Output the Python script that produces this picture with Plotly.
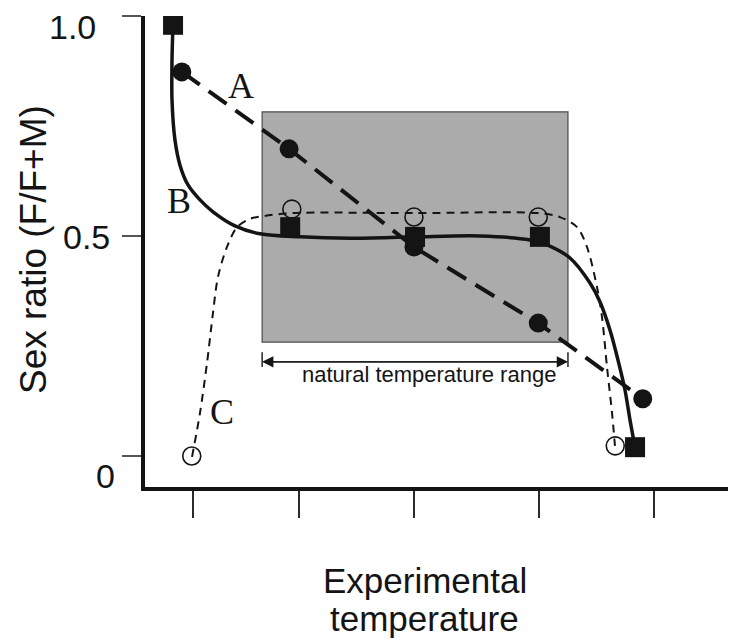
import plotly.graph_objects as go

# ---------------- data (schematic) ----------------
# x: experimental temperature (arbitrary units), y: sex ratio F/(F+M)
x_ticks = [0.87, 2.80, 4.89, 7.16, 9.25]

# Series A: filled circles, long-dashed straight line
a_x = [0.67, 2.62, 4.89, 7.15, 9.05]
a_y = [0.873, 0.698, 0.475, 0.302, 0.130]

# Series B: filled squares, solid smooth curve
b_x = [0.51, 2.64, 4.91, 7.18, 8.91]
b_y = [0.980, 0.520, 0.498, 0.498, 0.020]
b_curve_x = [0.509, 0.491, 0.491, 0.545, 0.636, 0.782, 1.0, 1.236, 1.636, 2.091, 2.818,
             3.727, 4.909, 6.091, 7.0, 7.309, 7.727, 8.091, 8.273, 8.455, 8.600, 8.727, 8.818, 8.909]
b_curve_y = [0.980, 0.900, 0.809, 0.718, 0.661, 0.616, 0.582, 0.555, 0.523, 0.505, 0.498,
             0.495, 0.498, 0.500, 0.491, 0.480, 0.450, 0.393, 0.350, 0.286, 0.218, 0.150, 0.082, 0.020]

# Series C: open circles, short-dashed smooth curve
c_x = [0.85, 2.67, 4.89, 7.15, 8.55]
c_y = [0.0, 0.561, 0.543, 0.543, 0.023]
c_curve_x = [0.855, 1.0, 1.127, 1.236, 1.327, 1.491, 1.673, 1.909, 2.145, 2.673,
             4.891, 7.145, 7.545, 7.855, 8.036, 8.218, 8.309, 8.4, 8.491, 8.545]
c_curve_y = [-0.002, 0.098, 0.211, 0.325, 0.407, 0.475, 0.520, 0.539, 0.545, 0.552,
             0.552, 0.552, 0.543, 0.520, 0.475, 0.384, 0.316, 0.202, 0.098, 0.023]

# natural temperature range box
range_x = [2.13, 7.69]
range_y = [0.259, 0.782]
arrow_y = 0.214

y_tick_vals = [0.0, 0.5, 1.0]
y_tick_text = ["0", "0.5", "1.0"]

X_RANGE = [0, 10.6]
Y_RANGE = [-0.0705, 1.0]

# ---------------- figure ----------------
INK = "#141414"
SANS = "Liberation Sans, Arial, sans-serif"
SERIF = "Liberation Serif, Times New Roman, serif"


def to_paper(x, y):
    return ((x - X_RANGE[0]) / (X_RANGE[1] - X_RANGE[0]),
            (y - Y_RANGE[0]) / (Y_RANGE[1] - Y_RANGE[0]))


fig = go.Figure()

fig.add_shape(type="rect", x0=range_x[0], x1=range_x[1], y0=range_y[0], y1=range_y[1],
              xref="x", yref="y", fillcolor="#ababab", line=dict(color="#4a4a4a", width=1.2),
              layer="below")

# C
fig.add_trace(go.Scatter(x=c_curve_x, y=c_curve_y, mode="lines", line_shape="spline",
                         line=dict(color=INK, width=2, dash="8px,6px", smoothing=0.9),
                         hoverinfo="skip", showlegend=False))
fig.add_trace(go.Scatter(x=c_x, y=c_y, mode="markers",
                         marker=dict(symbol="circle-open", size=18, color=INK,
                                     line=dict(color=INK, width=1.6)),
                         showlegend=False))
# A
fig.add_trace(go.Scatter(x=a_x, y=a_y, mode="lines+markers",
                         line=dict(color=INK, width=4, dash="22px,11px"),
                         marker=dict(symbol="circle", size=19, color=INK),
                         showlegend=False))
# B
fig.add_trace(go.Scatter(x=b_curve_x, y=b_curve_y, mode="lines", line_shape="spline",
                         line=dict(color=INK, width=3.5, smoothing=0.9),
                         hoverinfo="skip", showlegend=False))
fig.add_trace(go.Scatter(x=b_x, y=b_y, mode="markers",
                         marker=dict(symbol="square", size=20, color=INK),
                         showlegend=False))

# range arrows (each spans the whole range, head at one end)
for xe, xs in [(range_x[0], range_x[1]), (range_x[1], range_x[0])]:
    fig.add_annotation(x=xe, y=arrow_y, ax=xs, ay=arrow_y, xref="x", yref="y",
                       axref="x", ayref="y", text="", showarrow=True, standoff=0,
                       startstandoff=0, arrowhead=2, arrowsize=1.6, arrowwidth=1.4,
                       arrowcolor=INK)
    fig.add_shape(type="line", x0=xe, x1=xe, y0=arrow_y - 0.012, y1=arrow_y + 0.022,
                  xref="x", yref="y", line=dict(color=INK, width=1.4))
fig.add_annotation(x=5.16, y=0.186, xref="x", yref="y",
                   text="natural temperature range", showarrow=False,
                   font=dict(family=SANS, size=22, color=INK))

# series letters
letters = [("A", 1.75, 0.841), ("B", 0.62, 0.580), ("C", 1.40, 0.100)]
for t, lx, ly in letters:
    fig.add_annotation(x=lx, y=ly, xref="x", yref="y", text=t, showarrow=False,
                       font=dict(family=SERIF, size=36, color=INK))

# y tick labels (hand placed in the original)
ylab_pos = [(-0.51, -0.045), (-0.60, 0.498), (-0.855, 0.975)]
for t, (lx, ly) in zip(y_tick_text, ylab_pos):
    px_, py_ = to_paper(lx, ly)
    fig.add_annotation(x=px_, y=py_, xref="paper", yref="paper", text=t, showarrow=False,
                       xanchor="right", yanchor="middle",
                       font=dict(family=SANS, size=34, color=INK))

# axis titles
for t, lx, ly, ang, sz in [("Sex ratio (F/F+M)", -2.04, 0.47, -90, 37),
                           ("Experimental", 5.09, -0.284, 0, 35),
                           ("temperature", 5.09, -0.370, 0, 35)]:
    px_, py_ = to_paper(lx, ly)
    fig.add_annotation(x=px_, y=py_, xref="paper", yref="paper", text=t,
                       textangle=ang, showarrow=False, xanchor="center",
                       yanchor="middle", borderpad=0,
                       font=dict(family=SANS, size=sz, color=INK))

fig.update_xaxes(range=X_RANGE, showgrid=False, zeroline=False, showline=True,
                 linecolor=INK, linewidth=3.5, ticks="outside", ticklen=27,
                 tickwidth=1.5, tickcolor="#2a2a2a", tickmode="array", tickvals=x_ticks,
                 showticklabels=False)
fig.update_yaxes(range=Y_RANGE, showgrid=False, zeroline=False, showline=True,
                 linecolor=INK, linewidth=3.5, ticks="outside", ticklen=19,
                 tickwidth=1.5, tickcolor="#555555", tickmode="array", tickvals=y_tick_vals,
                 showticklabels=False)

fig.update_layout(width=737, height=640, margin=dict(l=145, r=9, t=16, b=153),
                  plot_bgcolor="white", paper_bgcolor="white", showlegend=False)

fig.write_html("out.html")
